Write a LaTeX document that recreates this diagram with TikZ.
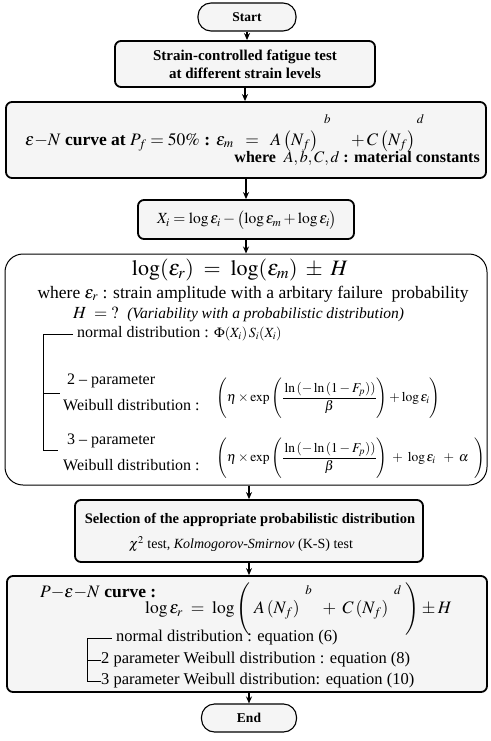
\documentclass[tikz,border=0pt]{standalone}
\usepackage{mathptmx}
\usepackage{amsmath}
\usepackage[no-math]{fontspec}
\setmainfont{Liberation Serif}
\usetikzlibrary{positioning, arrows.meta}
\newcommand{\sz}[2]{\fontsize{#1}{#2}\selectfont}

\begin{document}
\begin{tikzpicture}[x=1pt, y=1pt,
  term/.style={rectangle, rounded corners=13pt, draw, line width=1.1pt, fill=black!4,
               minimum width=98pt, minimum height=28pt, font=\sz{13.5}{16}\bfseries},
  box/.style={rectangle, rounded corners=6pt, draw, line width=1.8pt, fill=black!4,
              align=center, inner sep=0pt},
  bigbox/.style={rectangle, rounded corners=18pt, draw, line width=1pt, inner sep=0pt},
  txt/.style={inner sep=0pt, anchor=west},
  arr/.style={-{Stealth[length=7pt,width=6pt]}, line width=1.2pt},
  brk/.style={line width=1pt}
]
  \useasboundingbox (0,0) rectangle (490,-741);
  % flow boxes
  \node[term] (start) at (247,-17) {Start};
  \node[box, minimum width=260pt, minimum height=46pt, font=\sz{15}{18}\bfseries]
    (test) at (245,-64) {Strain-controlled fatigue test\\at different strain levels};
  \node[box, minimum width=480pt, minimum height=76pt] (curve) at (246,-140) {};
  \node[box, minimum width=216pt, minimum height=39pt] (xi) at (246,-219.5) {};
  \node[bigbox, minimum width=482pt, minimum height=231pt] (var) at (246,-369.5) {};
  \node[box, minimum width=348pt, minimum height=62pt] (sel) at (249,-531) {};
  \node[box, minimum width=480pt, minimum height=116pt] (pen) at (247,-634) {};
  \node[term, minimum width=95pt] (end) at (249,-718) {End};

  % e-N curve
  \node[txt, font=\sz{17.5}{20}\bfseries\boldmath] (curveeq) at (25,-133)
    {$\varepsilon{-}N$ curve at $P_f = 50\%$ : $\varepsilon_m \;\;=\;\; A\,\bigl(N_f\bigr)^{\;\;\raisebox{12pt}{$\scriptstyle b$}} \quad + C\,\bigl(N_f\bigr)^{\,\raisebox{12pt}{$\scriptstyle d$}}$};
  \node[txt, anchor=east, font=\sz{16}{19}\bfseries\boldmath] (consts) at (480,-159)
    {where \ $A, b, C, d$ : material constants};

  % X_i
  \node[inner sep=0pt, font=\sz{15.5}{19}\bfseries\boldmath] (xieq) at (247,-220)
    {$X_i = \log\varepsilon_i - \bigl(\log\varepsilon_m + \log\varepsilon_i\bigr)$};

  % variability
  \node[inner sep=0pt, font=\sz{22}{26}] (logeq) at (240,-270)
    {$\log(\varepsilon_r) \;=\; \log(\varepsilon_m) \;\pm\; H$};
  \node[inner sep=0pt, font=\sz{17.5}{20}] (where) at (253,-294)
    {where $\varepsilon_r$ : strain amplitude with a arbitary failure \ probability};
  \node[txt, font=\sz{17}{20}] (hq) at (73,-314)
    {$H \;=\; ?$ \ {\sz{15.5}{18}\itshape (Variability with a probabilistic distribution)}};
  \node[txt, font=\sz{16}{19}] (normal) at (77,-334)
    {normal distribution : {\sz{14}{17}$\Phi(X_i)\,S_i(X_i)$}};
  \node[txt, font=\sz{16}{19}] (two) at (67,-381) {2 -- parameter};
  \node[txt, font=\sz{16}{19}] (twow) at (63,-405) {Weibull distribution :};
  \node[txt, font=\sz{13.5}{16}\bfseries\boldmath] (twoeq) at (216,-398)
    {$\left(\eta\times\exp\left(\dfrac{\rule{0pt}{16pt}\ln\left(-\ln\left(1-F_p\right)\right)}{\rule[-9pt]{0pt}{14pt}\beta}\right)+\log\varepsilon_i\right)$};
  \node[txt, font=\sz{16}{19}] (three) at (67,-441) {3 -- parameter};
  \node[txt, font=\sz{16}{19}] (threew) at (63,-465) {Weibull distribution :};
  \node[txt, font=\sz{13.5}{16}\bfseries\boldmath] (threeeq) at (216,-458)
    {$\left(\eta\times\exp\left(\dfrac{\rule{0pt}{16pt}\ln\left(-\ln\left(1-F_p\right)\right)}{\rule[-9pt]{0pt}{14pt}\beta}\right)\;+\;\log\varepsilon_i\;\;+\;\alpha\;\;\right)$};
  \coordinate (b1) at (43,-393);
  \coordinate (b2) at (43,-450);
  \draw[brk] ([xshift=-4pt]normal.west) -| (b2) -- ++(15,0);
  \draw[brk] (b1) -- ++(17,0);

  % selection
  \node[inner sep=0pt, font=\sz{14.5}{17}\bfseries] (seltxt) at (250,-520)
    {Selection of the appropriate probabilistic distribution};
  \node[inner sep=0pt, font=\sz{14}{16}] (ks) at (241,-544)
    {$\chi^2$ test, \textit{Kolmogorov-Smirnov} (K-S) test};

  % P-e-N curve
  \node[txt, font=\sz{17.5}{20}\bfseries\boldmath] (pen1) at (40,-593)
    {$P{-}\varepsilon{-}N$ curve :};
  \node[txt, font=\sz{17.5}{20}\bfseries\boldmath] (peneq) at (145,-609)
    {$\log\varepsilon_r \;=\; \log\left(\;A\,(N_f)^{\;\;\raisebox{13pt}{$\scriptstyle b$}} \;\;+\; C\,(N_f)^{\;\;\raisebox{13pt}{$\scriptstyle d$}}\;\right) \pm H$};
  \node[txt, font=\sz{16.5}{19}] (pnorm) at (116,-638) {normal distribution : equation (6)};
  \node[txt, font=\sz{16.5}{19}] (ptwo) at (101,-660) {2 parameter Weibull distribution : equation (8)};
  \node[txt, font=\sz{16.5}{19}] (pthree) at (101,-681) {3 parameter Weibull distribution: equation (10)};
  \coordinate (b3) at (87,-660);
  \draw[brk] ([xshift=-4pt]pnorm.west) -| (pthree.west -| b3) -- (pthree.west);
  \draw[brk] (b3) -- (ptwo.west);

  % arrows
  \draw[arr] (start.south) -- (start.south |- test.north);
  \draw[arr] (test.south) -- (test.south |- curve.north);
  \draw[arr] (curve.south -| xi.north) -- (xi.north);
  \draw[arr] (xi.south) -- (xi.south |- var.north);
  \draw[arr] (var.south -| sel.north) -- (sel.north);
  \draw[arr] (sel.south) -- (sel.south |- pen.north);
  \draw[arr] (pen.south -| end.north) -- (end.north);
\end{tikzpicture}
\end{document}
